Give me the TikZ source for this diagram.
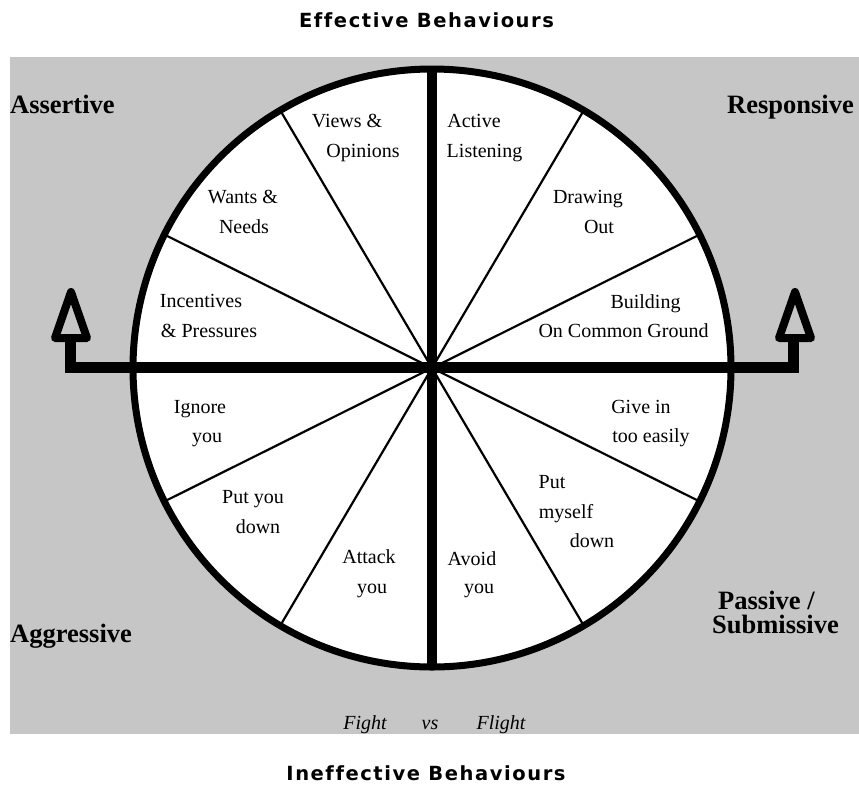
\documentclass[tikz,border=0pt]{standalone}
\usepackage{fontspec}
\setmainfont{Liberation Serif}
\newfontfamily\titlefont[LetterSpace=8,Ligatures={NoCommon}]{DejaVu Sans}
\definecolor{bg}{RGB}{198,198,198}
\begin{document}
\begin{tikzpicture}[x=1pt,y=-1pt,
  wl/.style={anchor=base, inner sep=0pt, font=\fontsize{20}{24}\selectfont},
  cl/.style={anchor=base west, inner sep=0pt, font=\fontsize{26.5}{30}\selectfont\bfseries},
  fl/.style={anchor=base, inner sep=0pt, font=\fontsize{20}{24}\selectfont\itshape},
  ttl/.style={anchor=base, inner sep=0pt, font=\titlefont\bfseries\fontsize{19.5}{22}\selectfont},
  spoke/.style={line width=2.2pt},
  rim/.style={line width=7pt},
  axis/.style={line width=10pt},
  bar/.style={line width=11pt, line join=miter},
  tri/.style={line width=8pt, line join=round}
]
\useasboundingbox (0,0) rectangle (859,785);
\fill[bg] (10,57) rectangle (859,734);
\coordinate (c) at (432,368);
\fill[white] (c) circle[radius=299pt];
% spokes
\foreach \a/\n in {26.5/s1,59.5/s2,120.5/s3,153.5/s4,206.5/s5,239.5/s6,300.5/s7,333.5/s8}{
  \path (c) ++(\a:299pt) coordinate (\n);
  \draw[spoke] (c) -- (\n);
}
\path (c) ++(90:299pt) coordinate (top);
\path (c) ++(-90:299pt) coordinate (bot);
\draw[axis] (top) -- (bot);
% horizontal bar with stems
\coordinate (lt) at (70.5,338);
\coordinate (lc) at (70.5,367.5);
\coordinate (rc) at (793,367.5);
\coordinate (rt) at (793,338);
\draw[bar] (lt) -- (lc) -- (rc) -- (rt);
\draw[rim] (c) circle[radius=299pt];
% triangles
\coordinate (la) at (71,292);
\coordinate (lb1) at (55,338);
\coordinate (lb2) at (87,338);
\draw[tri] (lb1) -- (la) -- (lb2) -- cycle;
\coordinate (ra) at (795,292);
\coordinate (rb1) at (779,338);
\coordinate (rb2) at (811,338);
\draw[tri] (rb1) -- (ra) -- (rb2) -- cycle;
% wheel labels
\node[wl] (v1) at (347,127) {Views \&};
\node[wl] (v2) at (363,157) {Opinions};
\node[wl] (w1) at (243,203) {Wants \&};
\node[wl] (w2) at (244,233) {Needs};
\node[wl] (i1) at (201,307) {Incentives};
\node[wl] (i2) at (209,337) {\& Pressures};
\node[wl] (a1) at (474,127) {Active};
\node[wl] (a2) at (484.5,157) {Listening};
\node[wl] (d1) at (588,203) {Drawing};
\node[wl] (d2) at (599,233) {Out};
\node[wl] (b1) at (645.5,308) {Building};
\node[wl] (b2) at (623.5,337) {On Common Ground};
\node[wl] (g1) at (200,413) {Ignore};
\node[wl] (g2) at (207,442) {you};
\node[wl] (p1) at (253,503) {Put you};
\node[wl] (p2) at (258,533) {down};
\node[wl] (k1) at (369,563) {Attack};
\node[wl] (k2) at (372,593) {you};
\node[wl] (e1) at (641,413) {Give in};
\node[wl] (e2) at (651,442) {too easily};
\node[wl] (m1) at (552,488) {Put};
\node[wl] (m2) at (566,518) {myself};
\node[wl] (m3) at (592,547) {down};
\node[wl] (o1) at (472,565) {Avoid};
\node[wl] (o2) at (479,593) {you};
% corner labels
\node[cl] (as) at (10,113) {Assertive};
\node[cl] (re) at (727,113) {Responsive};
\node[cl] (ag) at (10,642) {Aggressive};
\node[cl] (pa) at (718,609) {Passive /};
\node[cl] (su) at (712,633) {Submissive};
% fight vs flight
\node[fl] (f1) at (365,729) {Fight};
\node[fl] (f2) at (430,729) {vs};
\node[fl] (f3) at (501,729) {Flight};
% titles
\node[ttl] (t1) at (426.5,27) {Effective Behaviours};
\node[ttl] (t2) at (426,780) {Ineffective Behaviours};
\end{tikzpicture}
\end{document}
